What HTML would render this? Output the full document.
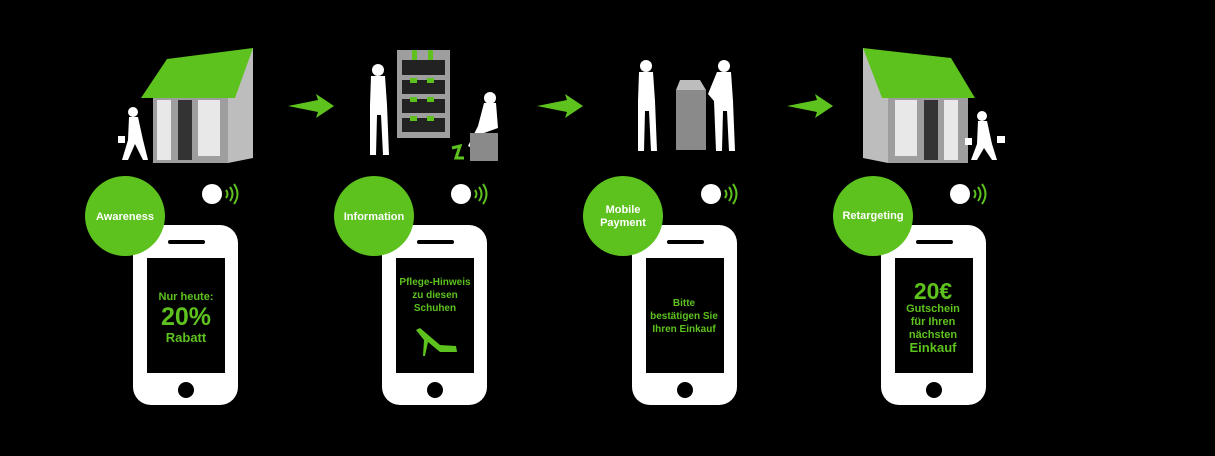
<!DOCTYPE html>
<html><head><meta charset="utf-8"><style>
html,body{margin:0;padding:0;background:#000;}
body{width:1215px;height:456px;overflow:hidden;position:relative;font-family:"Liberation Sans",sans-serif;}
svg{position:absolute;left:0;top:0;}
.t{font-family:"Liberation Sans",sans-serif;font-weight:bold;text-anchor:middle;}
</style></head><body>
<svg width="1215" height="456" viewBox="0 0 1215 456">
<defs>
<g id="phone">
  <rect x="0" y="0" width="105" height="180" rx="18" fill="#fff"/>
  <rect x="14" y="33" width="78" height="115" fill="#000"/>
  <rect x="35" y="15" width="37" height="4" rx="2" fill="#000"/>
  <circle cx="53" cy="165" r="8" fill="#000"/>
</g>
<g id="nfc">
  <circle cx="0" cy="0" r="10" fill="#fff"/>
  <path d="M14,-4 Q17,0 14,4" stroke="#5dc21e" stroke-width="2" fill="none"/>
  <path d="M18,-7 Q23,0 18,7" stroke="#5dc21e" stroke-width="2" fill="none"/>
  <path d="M22,-10 Q29,0 22,10" stroke="#5dc21e" stroke-width="2" fill="none"/>
</g>
<g id="arrow">
  <polygon points="0,0 30,-6 28,-12 46,0 28,12 30,6" fill="#5dc21e"/>
</g>
<g id="woman">
  <circle cx="0" cy="0" r="6" fill="#fff"/>
  <path d="M-7,6 L7,6 L9,35 L11,85 L5,85 L3,45 L-1,45 L-2,85 L-8,85 L-8,35 Z" fill="#fff"/>
</g>
</defs>

<!-- store 1 -->
<polygon points="228,60 253,48 253,158 228,163" fill="#bdbdbd"/>
<rect x="153" y="98" width="75" height="65" fill="#9e9e9e"/>
<rect x="157" y="100" width="14" height="60" fill="#e8e8e8"/>
<rect x="178" y="100" width="14" height="60" fill="#333"/>
<rect x="198" y="100" width="22" height="56" fill="#e8e8e8"/>
<polygon points="141,98 167,59 253,48 235,98" fill="#5dc21e"/>
<g transform="translate(133,112)">
  <circle cx="0" cy="0" r="5" fill="#fff"/>
  <path d="M-4,5 L5,5 L10,28 L15,48 L10,48 L2,32 L-5,48 L-11,48 L-5,28 Z" fill="#fff"/>
  <rect x="-15" y="24" width="7" height="7" fill="#fff"/>
</g>

<use href="#arrow" x="288" y="106"/>
<use href="#arrow" x="537" y="106"/>
<use href="#arrow" x="787" y="106"/>

<!-- shelf -->
<rect x="397" y="50" width="53" height="88" fill="#9e9e9e"/>
<rect x="402" y="60" width="43" height="15" fill="#222"/>
<rect x="402" y="80" width="43" height="14" fill="#222"/>
<rect x="402" y="99" width="43" height="14" fill="#222"/>
<rect x="402" y="118" width="43" height="14" fill="#222"/>
<g fill="#5dc21e">
<rect x="412" y="50" width="5" height="10"/><rect x="428" y="50" width="5" height="10"/>
<rect x="410" y="78" width="7" height="5"/><rect x="427" y="78" width="7" height="5"/>
<rect x="410" y="97" width="7" height="5"/><rect x="427" y="97" width="7" height="5"/>
<rect x="410" y="116" width="7" height="5"/><rect x="427" y="116" width="7" height="5"/>
</g>
<use href="#woman" x="378" y="70"/>
<g transform="translate(490,98)">
  <circle cx="0" cy="0" r="6" fill="#fff"/>
  <path d="M-6,5 L6,5 L8,30 L-6,35 L-18,50 L-22,48 L-12,28 Z" fill="#fff"/>
</g>
<rect x="470" y="133" width="28" height="28" fill="#8a8a8a"/>
<path d="M452,148 l8,-2 l-4,12 l8,0" stroke="#5dc21e" stroke-width="3" fill="none"/>

<!-- payment -->
<use href="#woman" x="646" y="66"/>
<g transform="translate(724,66)">
  <circle cx="0" cy="0" r="6" fill="#fff"/>
  <path d="M-7,6 L7,6 L9,35 L11,85 L5,85 L3,45 L-1,45 L-2,85 L-8,85 L-10,35 L-16,28 Z" fill="#fff"/>
</g>
<rect x="676" y="90" width="30" height="60" fill="#8a8a8a"/>
<polygon points="680,80 700,80 706,90 676,90" fill="#bdbdbd"/>

<!-- store 4 -->
<polygon points="863,48 888,60 888,163 863,158" fill="#bdbdbd"/>
<rect x="888" y="98" width="80" height="65" fill="#9e9e9e"/>
<rect x="895" y="100" width="22" height="56" fill="#e8e8e8"/>
<rect x="924" y="100" width="14" height="60" fill="#333"/>
<rect x="944" y="100" width="14" height="60" fill="#e8e8e8"/>
<polygon points="863,48 951,58 975,98 882,98" fill="#5dc21e"/>
<g transform="translate(982,116)">
  <circle cx="0" cy="0" r="5" fill="#fff"/>
  <path d="M-4,5 L5,5 L10,28 L15,44 L10,44 L2,32 L-5,44 L-11,44 L-5,28 Z" fill="#fff"/>
  <rect x="-17" y="22" width="7" height="7" fill="#fff"/><rect x="15" y="20" width="8" height="7" fill="#fff"/>
</g>

<!-- phones -->
<use href="#phone" x="133" y="225"/>
<use href="#phone" x="382" y="225"/>
<use href="#phone" x="632" y="225"/>
<use href="#phone" x="881" y="225"/>
<use href="#nfc" x="212" y="194"/>
<use href="#nfc" x="461" y="194"/>
<use href="#nfc" x="711" y="194"/>
<use href="#nfc" x="960" y="194"/>

<!-- circles -->
<circle cx="125" cy="216" r="40" fill="#5dc21e"/>
<circle cx="374" cy="216" r="40" fill="#5dc21e"/>
<circle cx="623" cy="216" r="40" fill="#5dc21e"/>
<circle cx="873" cy="216" r="40" fill="#5dc21e"/>
<text class="t" x="125" y="220" font-size="11" fill="#fff">Awareness</text>
<text class="t" x="374" y="220" font-size="11" fill="#fff">Information</text>
<text class="t" x="623" y="213" font-size="11" fill="#fff">Mobile</text>
<text class="t" x="623" y="226" font-size="11" fill="#fff">Payment</text>
<text class="t" x="873" y="219" font-size="11" fill="#fff">Retargeting</text>

<!-- screens -->
<g fill="#5dc21e">
<text class="t" x="186" y="300" font-size="11">Nur heute:</text>
<text class="t" x="186" y="325" font-size="25">20%</text>
<text class="t" x="186" y="342" font-size="13">Rabatt</text>
<text class="t" x="435" y="285" font-size="10">Pflege-Hinweis</text>
<text class="t" x="435" y="298" font-size="10">zu diesen</text>
<text class="t" x="435" y="311" font-size="10">Schuhen</text>
<path d="M416,330 L420,328 L440,345 L456,346 L457,352 L440,352 L428,342 L425,356 L423,356 L424,340 Z"/>
<text class="t" x="684" y="306" font-size="10">Bitte</text>
<text class="t" x="684" y="319" font-size="10">bestätigen Sie</text>
<text class="t" x="684" y="332" font-size="10">Ihren Einkauf</text>
<text class="t" x="933" y="299" font-size="23">20€</text>
<text class="t" x="933" y="312" font-size="11">Gutschein</text>
<text class="t" x="933" y="325" font-size="11">für Ihren</text>
<text class="t" x="933" y="338" font-size="11">nächsten</text>
<text class="t" x="933" y="352" font-size="13">Einkauf</text>
</g>
</svg>
</body></html>
